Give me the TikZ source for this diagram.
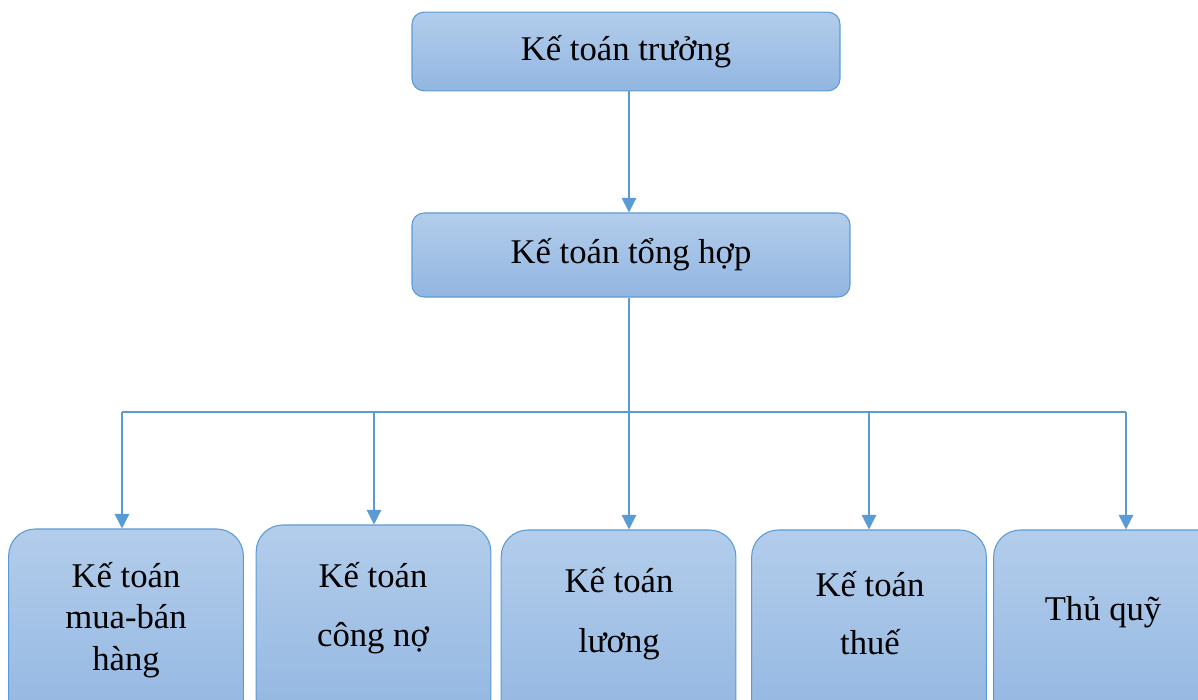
\documentclass[tikz,border=0pt]{standalone}
\usepackage{fontspec}
\setmainfont{Liberation Serif}
\usepackage{tikz}
\usetikzlibrary{arrows.meta, positioning}
\definecolor{boxline}{RGB}{91,155,213}
\definecolor{boxtop}{RGB}{179,205,235}
\definecolor{boxbottom}{RGB}{146,182,225}
\tikzstyle{unit} = [rectangle, draw=boxline, line width=0.8pt,
    top color=boxtop, bottom color=boxbottom, text centered,
    font=\fontsize{26pt}{31pt}\selectfont]
\tikzstyle{headunit} = [unit, rounded corners=9pt]
\tikzstyle{leafunit} = [unit, rounded corners=20pt, minimum width=176pt,
    minimum height=150pt]
\tikzstyle{leaftext} = [align=center, font=\fontsize{26pt}{31pt}\selectfont]
\tikzstyle{link} = [draw=boxline, line width=0.9pt]
\tikzstyle{arrow} = [link, -{Triangle[length=11pt,width=11pt]}]

\begin{document}
\begin{tikzpicture}[x=0.75pt, y=-0.75pt]
            \useasboundingbox (0,0) rectangle (1198,699);
            \clip (0,0) rectangle (1198,699);
            % Head units
            \node[headunit, minimum width=321pt, minimum height=59pt]
            (chief) at (626,51.5) {Kế toán trưởng};
            \node[headunit, minimum width=328.5pt, minimum height=63pt]
            (general) at (631,255) {Kế toán tổng hợp};
            % Leaf units
            \node[leafunit] (sales) at (126,629) {};
            \node[leafunit] (debt) at (373.5,625) {};
            \node[leafunit] (salary) at (618.5,630) {};
            \node[leafunit] (tax) at (869,630) {};
            \node[leafunit] (cash) at (1111,630) {};
            \node[leaftext] (salestext) at (126,620) {Kế toán\\mua-bán\\hàng};
            \node[leaftext] (debttext) at (373,608) {Kế toán\\[13pt]công nợ};
            \node[leaftext] (salarytext) at (619,614) {Kế toán\\[14pt]lương};
            \node[leaftext] (taxtext) at (870,613) {Kế toán\\[13pt]thuế};
            \node[leaftext] (cashtext) at (1103,612) {Thủ quỹ};
            % Bus
            \coordinate (bus) at (629,412);
            \coordinate (drop1) at (122,412);
            \coordinate (drop2) at (374,412);
            \coordinate (drop4) at (869,412);
            \coordinate (drop5) at (1126,412);
            % Arrows
            \draw[arrow] (chief.south -| bus) -- (general.north -| bus);
            \draw[link] (general.south -| bus) -- (bus);
            \draw[link] (drop1) -- (drop5);
            \draw[arrow] (drop1) -- (drop1 |- sales.north);
            \draw[arrow] (drop2) -- (drop2 |- debt.north);
            \draw[arrow] (bus) -- (bus |- salary.north);
            \draw[arrow] (drop4) -- (drop4 |- tax.north);
            \draw[arrow] (drop5) -- (drop5 |- cash.north);

        \end{tikzpicture}
\end{document}
